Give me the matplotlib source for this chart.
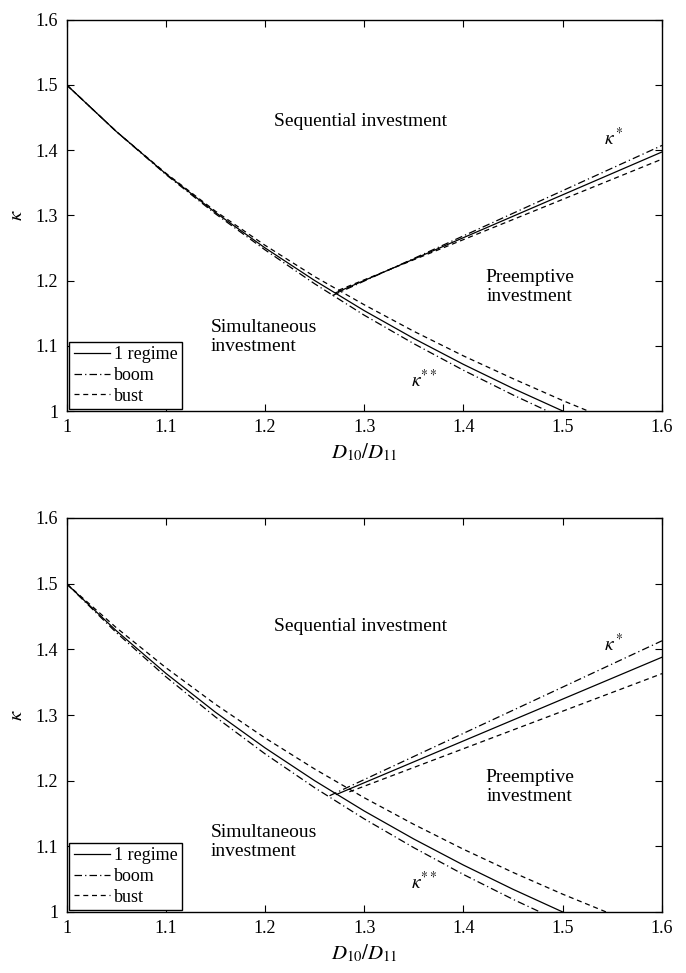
import matplotlib
matplotlib.use("Agg")
import matplotlib.pyplot as plt

plt.rcParams['font.family'] = ['Liberation Serif', 'DejaVu Serif']
plt.rcParams['mathtext.fontset'] = 'stix'

# kappa** curves (x grid shared)
x_kss = [1.0, 1.05, 1.1, 1.15, 1.2, 1.25, 1.3, 1.35, 1.4, 1.45, 1.5, 1.55, 1.6]
# top panel
top_kss_one = [1.5, 1.4286, 1.3636, 1.3043, 1.25, 1.2, 1.1538, 1.1111, 1.0714, 1.0345, 1.0, 0.9677, 0.9375]
top_kss_boom = [1.5, 1.4286, 1.3626, 1.3023, 1.247, 1.195, 1.1468, 1.1031, 1.0624, 1.0245, 0.989, 0.9557, 0.9255]
top_kss_bust = [1.5, 1.4286, 1.3646, 1.3063, 1.254, 1.206, 1.1628, 1.1221, 1.0844, 1.0495, 1.016, 0.9847, 0.9555]
# bottom panel
bot_kss_one = [1.5, 1.4286, 1.3636, 1.3043, 1.25, 1.2, 1.1538, 1.1111, 1.0714, 1.0345, 1.0, 0.9677, 0.9375]
bot_kss_boom = [1.5, 1.4258, 1.3584, 1.2971, 1.2409, 1.1893, 1.1418, 1.0979, 1.0571, 1.0192, 0.9839, 0.951, 0.92]
bot_kss_bust = [1.5, 1.4332, 1.3722, 1.3164, 1.2651, 1.2178, 1.1740, 1.1334, 1.0955, 1.0602, 1.0271, 0.9962, 0.9671]

# kappa* lines (start, end)
top_ks_one_x = [1.271, 1.6]; top_ks_one_y = [1.181, 1.397]
top_ks_boom_x = [1.268, 1.6]; top_ks_boom_y = [1.177, 1.407]
top_ks_bust_x = [1.274, 1.6]; top_ks_bust_y = [1.185, 1.386]
bot_ks_one_x = [1.272, 1.6]; bot_ks_one_y = [1.179, 1.388]
bot_ks_boom_x = [1.265, 1.6]; bot_ks_boom_y = [1.177, 1.413]
bot_ks_bust_x = [1.285, 1.6]; bot_ks_bust_y = [1.183, 1.363]

xticks = [1, 1.1, 1.2, 1.3, 1.4, 1.5, 1.6]
yticks = [1, 1.1, 1.2, 1.3, 1.4, 1.5, 1.6]
tick_labels = ['1', '1.1', '1.2', '1.3', '1.4', '1.5', '1.6']
legend_labels = ['1 regime', 'boom', 'bust']

W, H = 686, 973
fig = plt.figure(figsize=(W/100, H/100), dpi=100)
ax1 = fig.add_axes([66.5/W, 1-411/H, (662-66.5)/W, (411-19.5)/H])
ax2 = fig.add_axes([66.5/W, 1-912/H, (662-66.5)/W, (912-518)/H])

styles = [dict(ls='-'), dict(ls=(0, (6, 2.5, 1, 2.5))), dict(ls=(0, (4, 3)))]
lw = 0.9

def panel(ax, kss, ks, txt):
    for y, st, lab in zip(kss, styles, legend_labels):
        ax.plot(x_kss, y, color='k', lw=lw, label=lab, **st)
    for (xs, ys), st in zip(ks, styles):
        ax.plot(xs, ys, color='k', lw=lw, **st)
    ax.set_xlim(1, 1.6)
    ax.set_ylim(1, 1.6)
    ax.set_xticks(xticks)
    ax.set_xticklabels(tick_labels)
    ax.set_yticks(yticks)
    ax.set_yticklabels(tick_labels)
    ax.tick_params(direction='in', top=True, right=True, labelsize=13, length=5, width=0.8, pad=6)
    for s in ax.spines.values():
        s.set_linewidth(1.0)
    ax.set_xlabel(r'$D_{10}/D_{11}$', fontsize=15, labelpad=4)
    ax.set_ylabel(r'$\kappa$', fontsize=15, labelpad=6)
    ax.text(1.296, txt['seq'], 'Sequential investment', fontsize=14, ha='center', va='center')
    ax.text(1.467, txt['pre'], 'Preemptive\ninvestment', fontsize=14, ha='center', va='center', linespacing=1.15)
    ax.text(1.145, txt['sim'], 'Simultaneous\ninvestment', fontsize=14, ha='left', va='center', linespacing=1.15)
    ax.text(1.552, txt['ks'], r'$\kappa^*$', fontsize=14, ha='center', va='center')
    ax.text(1.361, txt['kss'], r'$\kappa^{**}$', fontsize=14, ha='center', va='center')
    leg = ax.legend(loc='lower left', bbox_to_anchor=(0.005, 0.005), fontsize=13, frameon=True,
                    fancybox=False, edgecolor='k', framealpha=1, handlelength=2.0,
                    handletextpad=0.2, borderpad=0.25, labelspacing=0.2, borderaxespad=0)
    leg.get_frame().set_linewidth(1.0)

panel(ax1, [top_kss_one, top_kss_boom, top_kss_bust],
      [(top_ks_one_x, top_ks_one_y), (top_ks_boom_x, top_ks_boom_y), (top_ks_bust_x, top_ks_bust_y)],
      dict(seq=1.443, pre=1.19, sim=1.113, ks=1.418, kss=1.047))
panel(ax2, [bot_kss_one, bot_kss_boom, bot_kss_bust],
      [(bot_ks_one_x, bot_ks_one_y), (bot_ks_boom_x, bot_ks_boom_y), (bot_ks_bust_x, bot_ks_bust_y)],
      dict(seq=1.435, pre=1.191, sim=1.107, ks=1.408, kss=1.046))

fig.savefig('out.png', dpi=100)
